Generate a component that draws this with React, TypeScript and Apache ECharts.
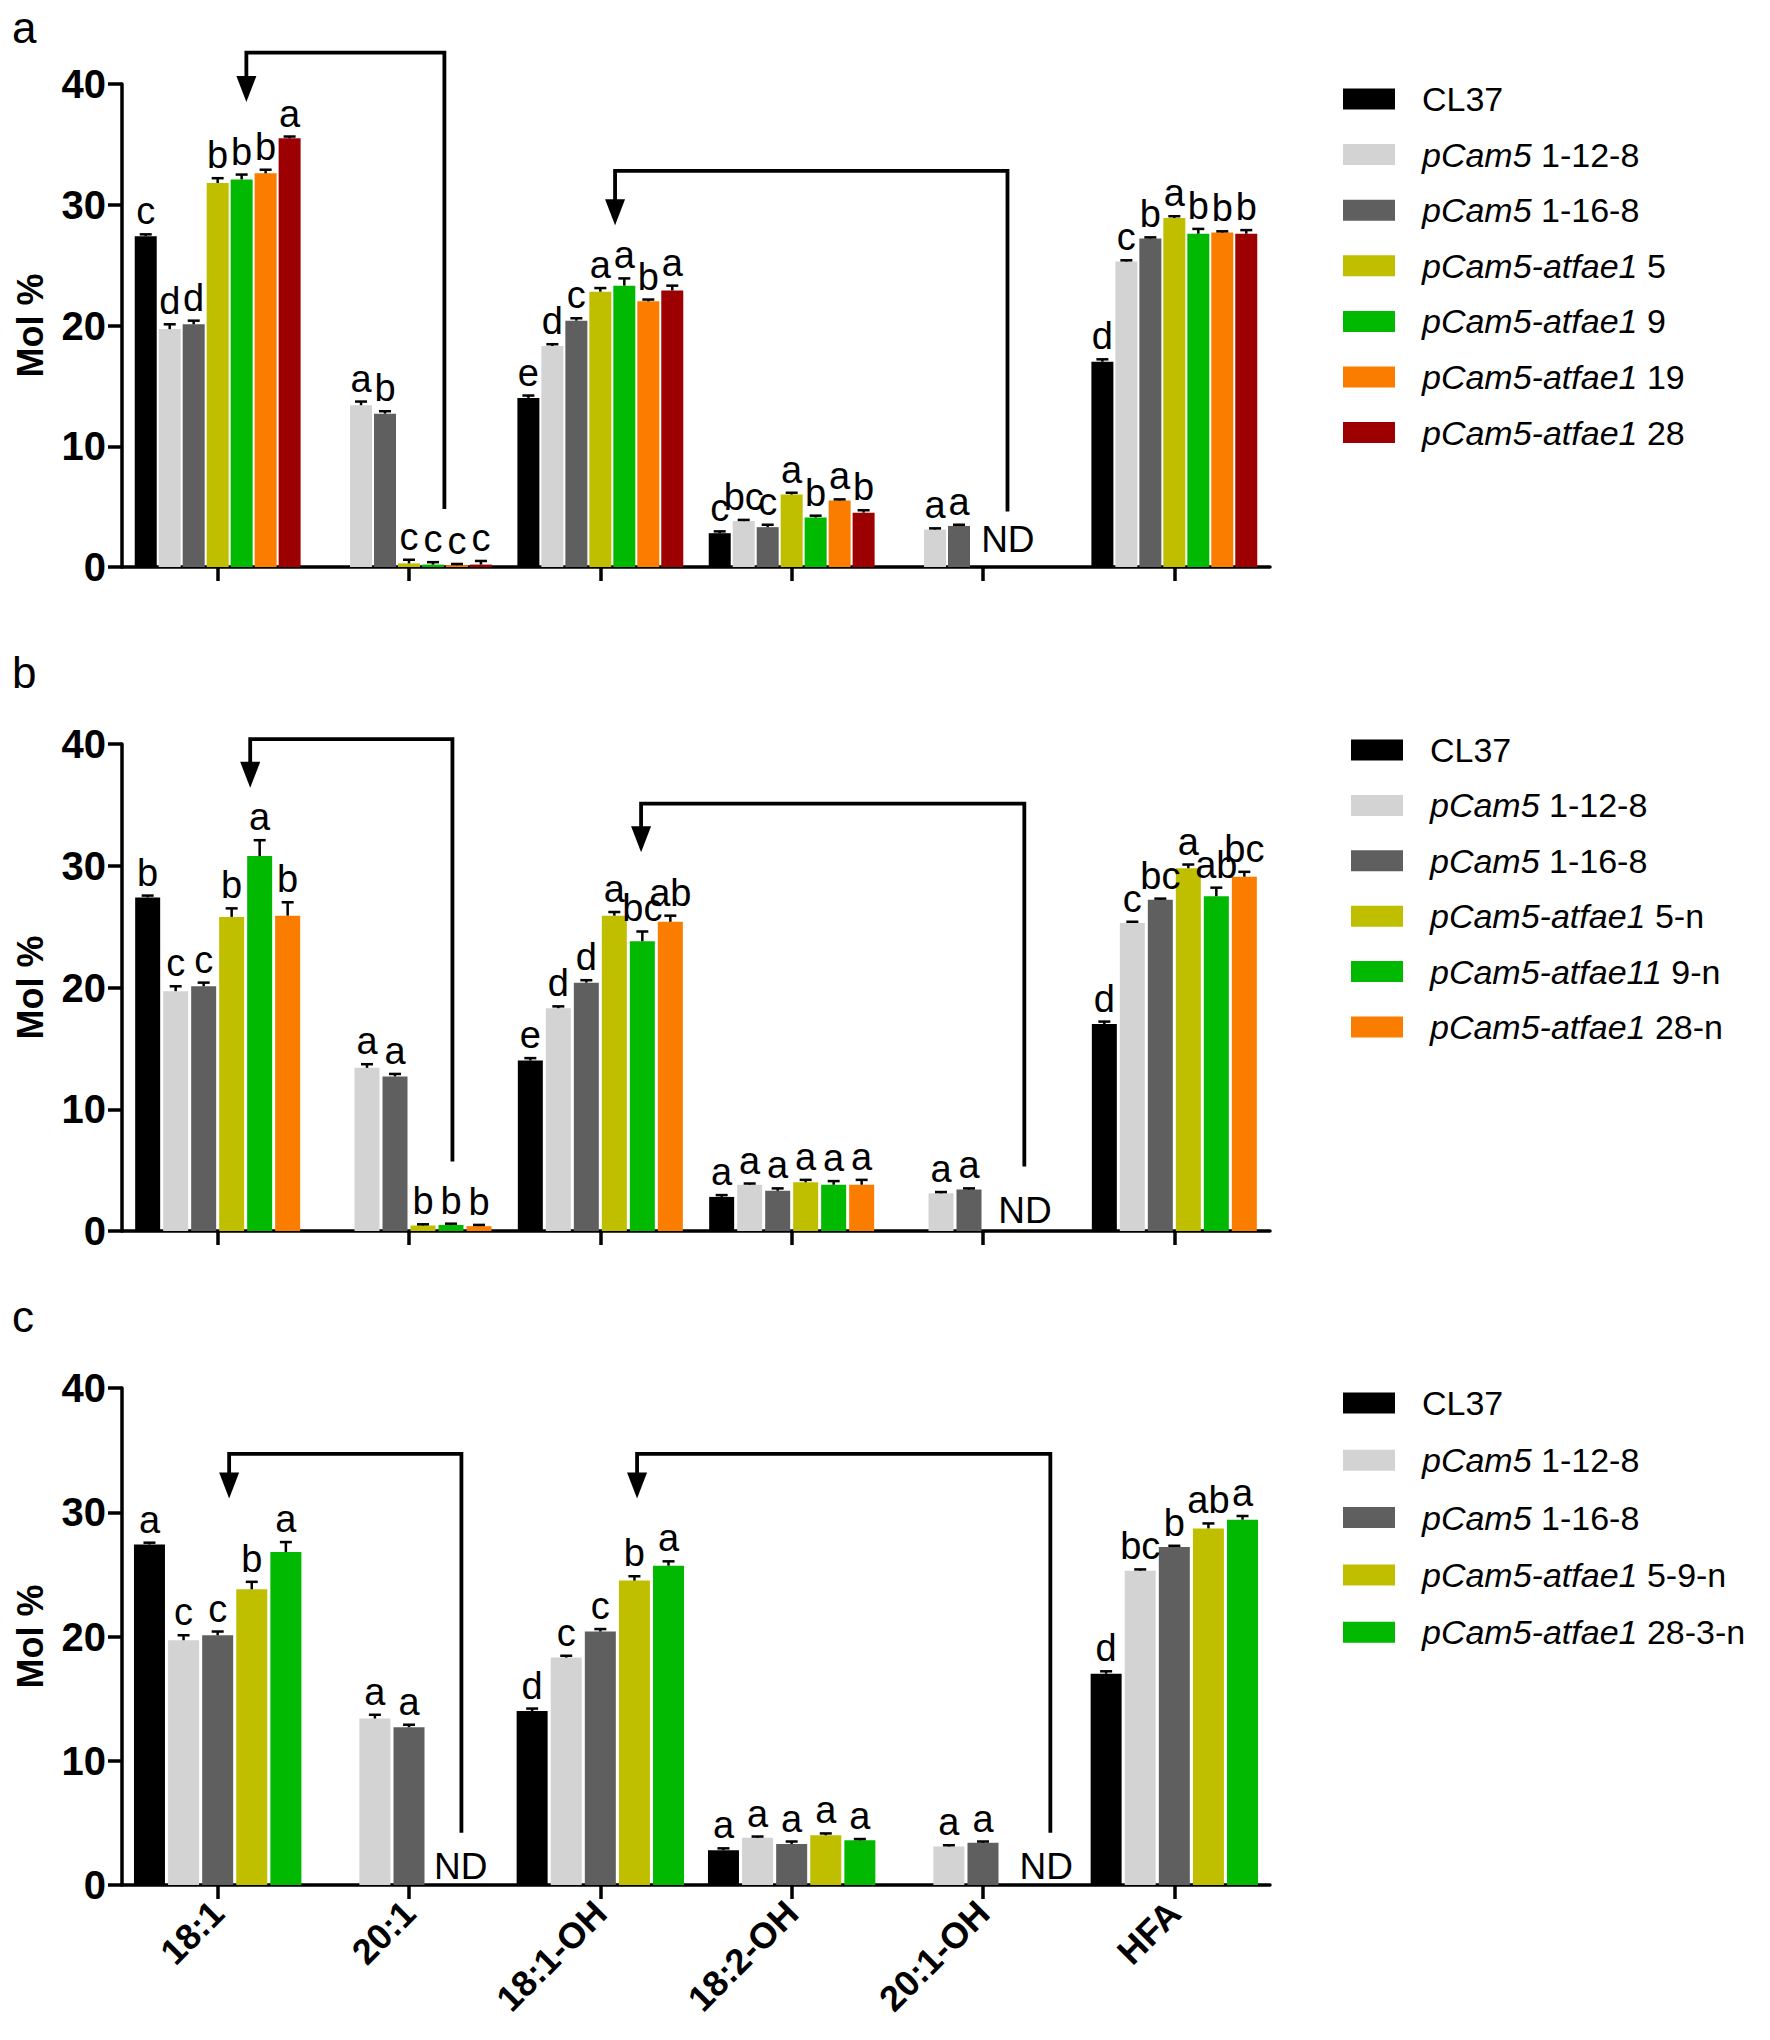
import React, { useEffect, useRef } from 'react';
import * as echarts from 'echarts';

const categories = ['18:1', '20:1', '18:1-OH', '18:2-OH', '20:1-OH', 'HFA'];
const yMin = 0;
const yMax = 40;
const yStep = 10;

// control lines (same in all panels)
const cl37 = [27.4, null, 14.0, 2.8, null, 17.0];
const cl37Err = [0.15, null, 0.2, 0.15, null, 0.2];
const pCam5_12_8 = [19.7, 13.4, 18.3, 3.8, 3.1, 25.3];
const pCam5_12_8Err = [0.4, 0.3, 0.15, 0.1, 0.1, 0.1];
const pCam5_16_8 = [20.1, 12.7, 20.4, 3.3, 3.4, 27.2];
const pCam5_16_8Err = [0.3, 0.2, 0.2, 0.2, 0.1, 0.1];

// panel a
const a5 = [31.8, 0.3, 22.8, 6.0, null, 28.9];
const a5Err = [0.4, 0.3, 0.3, 0.15, null, 0.15];
const a9 = [32.1, 0.2, 23.3, 4.1, null, 27.6];
const a9Err = [0.4, 0.2, 0.6, 0.15, null, 0.4];
const a19 = [32.6, 0.15, 22.0, 5.5, null, 27.7];
const a19Err = [0.3, 0.1, 0.15, 0.1, null, 0.1];
const a28 = [35.5, 0.2, 22.9, 4.5, null, 27.6];
const a28Err = [0.15, 0.3, 0.4, 0.2, null, 0.3];
const aLetCL37 = ['c', '', 'e', 'c', '', 'd'];
const aLet12 = ['d', 'a', 'd', 'bc', 'a', 'c'];
const aLet16 = ['d', 'b', 'c', 'c', 'a', 'b'];
const aLet5 = ['b', 'c', 'a', 'a', '', 'a'];
const aLet9 = ['b', 'c', 'a', 'b', '', 'b'];
const aLet19 = ['b', 'c', 'b', 'a', '', 'b'];
const aLet28 = ['a', 'c', 'a', 'b', '', 'b'];

// panel b
const b5 = [25.8, 0.45, 25.9, 4.0, null, 29.8];
const b5Err = [0.7, 0.1, 0.3, 0.2, null, 0.3];
const b9 = [30.8, 0.5, 23.8, 3.8, null, 27.5];
const b9Err = [1.3, 0.1, 0.8, 0.3, null, 0.7];
const b28 = [25.9, 0.4, 25.4, 3.8, null, 29.1];
const b28Err = [1.1, 0.1, 0.5, 0.4, null, 0.4];
const bLetCL37 = ['b', '', 'e', 'a', '', 'd'];
const bLet12 = ['c', 'a', 'd', 'a', 'a', 'c'];
const bLet16 = ['c', 'a', 'd', 'a', 'a', 'bc'];
const bLet5 = ['b', 'b', 'a', 'a', '', 'a'];
const bLet9 = ['a', 'b', 'bc', 'a', '', 'ab'];
const bLet28 = ['b', 'b', 'ab', 'a', '', 'bc'];

// panel c
const c59 = [23.8, null, 24.5, 4.0, null, 28.7];
const c59Err = [0.6, null, 0.35, 0.15, null, 0.4];
const c283 = [26.8, null, 25.7, 3.6, null, 29.4];
const c283Err = [0.8, null, 0.35, 0.1, null, 0.3];
const cLetCL37 = ['a', '', 'd', 'a', '', 'd'];
const cLet12 = ['c', 'a', 'c', 'a', 'a', 'bc'];
const cLet16 = ['c', 'a', 'c', 'a', 'a', 'b'];
const cLet59 = ['b', '', 'b', 'a', '', 'ab'];
const cLet283 = ['a', '', 'a', 'a', '', 'a'];

// annotations: arrows (category position, values) and ND marks
const arrowsA = [
  { from: 0.15, to: 1.185, top: 42.6, tip: 38.5, bottom: 4.8 },
  { from: 2.077, to: 4.128, top: 32.8, tip: 28.3, bottom: 4.6 },
];
const arrowsB = [
  { from: 0.17, to: 1.227, top: 40.4, tip: 36.4, bottom: 5.7 },
  { from: 2.213, to: 4.216, top: 35.1, tip: 31.1, bottom: 5.3 },
];
const arrowsC = [
  { from: 0.06, to: 1.274, top: 34.7, tip: 31.1, bottom: 4.2 },
  { from: 2.192, to: 4.352, top: 34.7, tip: 31.1, bottom: 4.2 },
];
const ndA = [{ cat: 4.13, v: 2.3 }];
const ndB = [{ cat: 4.22, v: 1.7 }];
const ndC = [{ cat: 1.27, v: 1.5 }, { cat: 4.33, v: 1.5 }];

const COL = {
  black: '#000000',
  light: '#d3d3d3',
  dark: '#5f5f5f',
  yellow: '#bfbf00',
  green: '#00b900',
  orange: '#fa7d00',
  red: '#9c0000',
};

const FONT = '"Liberation Sans", Arial, sans-serif';
const GRID_LEFT = 122;
const GRID_WIDTH = 1148;
const gridTops = [84, 744, 1388];
const gridHeights = [483, 487, 497];
const barWidths = [22, 25, 31];
const barGapPct = [9, 12, 10];
const legendLefts = [1338, 1346, 1338];
const legendTops = [77, 728, 1381];
const legendGaps = [21.6, 21.4, 23.3];
const panelLetters = ['a', 'b', 'c'];
const panelLetterTop = [5, 650, 1294];

type S = { name: string; color: string; values: (number | null)[]; errs: (number | null)[]; letters: string[] };

const panels: { series: S[]; arrows: typeof arrowsA; nd: typeof ndA }[] = [
  {
    series: [
      { name: 'CL37', color: COL.black, values: cl37, errs: cl37Err, letters: aLetCL37 },
      { name: 'pCam5 1-12-8', color: COL.light, values: pCam5_12_8, errs: pCam5_12_8Err, letters: aLet12 },
      { name: 'pCam5 1-16-8', color: COL.dark, values: pCam5_16_8, errs: pCam5_16_8Err, letters: aLet16 },
      { name: 'pCam5-atfae1 5', color: COL.yellow, values: a5, errs: a5Err, letters: aLet5 },
      { name: 'pCam5-atfae1 9', color: COL.green, values: a9, errs: a9Err, letters: aLet9 },
      { name: 'pCam5-atfae1 19', color: COL.orange, values: a19, errs: a19Err, letters: aLet19 },
      { name: 'pCam5-atfae1 28', color: COL.red, values: a28, errs: a28Err, letters: aLet28 },
    ],
    arrows: arrowsA,
    nd: ndA,
  },
  {
    series: [
      { name: 'CL37', color: COL.black, values: cl37, errs: cl37Err, letters: bLetCL37 },
      { name: 'pCam5 1-12-8', color: COL.light, values: pCam5_12_8, errs: pCam5_12_8Err, letters: bLet12 },
      { name: 'pCam5 1-16-8', color: COL.dark, values: pCam5_16_8, errs: pCam5_16_8Err, letters: bLet16 },
      { name: 'pCam5-atfae1 5-n', color: COL.yellow, values: b5, errs: b5Err, letters: bLet5 },
      { name: 'pCam5-atfae11 9-n', color: COL.green, values: b9, errs: b9Err, letters: bLet9 },
      { name: 'pCam5-atfae1 28-n', color: COL.orange, values: b28, errs: b28Err, letters: bLet28 },
    ],
    arrows: arrowsB,
    nd: ndB,
  },
  {
    series: [
      { name: 'CL37', color: COL.black, values: cl37, errs: cl37Err, letters: cLetCL37 },
      { name: 'pCam5 1-12-8', color: COL.light, values: pCam5_12_8, errs: pCam5_12_8Err, letters: cLet12 },
      { name: 'pCam5 1-16-8', color: COL.dark, values: pCam5_16_8, errs: pCam5_16_8Err, letters: cLet16 },
      { name: 'pCam5-atfae1 5-9-n', color: COL.yellow, values: c59, errs: c59Err, letters: cLet59 },
      { name: 'pCam5-atfae1 28-3-n', color: COL.green, values: c283, errs: c283Err, letters: cLet283 },
    ],
    arrows: arrowsC,
    nd: ndC,
  },
];

const px = (p: number, c: number) => GRID_LEFT + (GRID_WIDTH / categories.length) * (c + 0.5);
const py = (p: number, v: number) => gridTops[p] + gridHeights[p] * (1 - (v - yMin) / (yMax - yMin));

function legendFormatter(name: string) {
  if (name.startsWith('pCam5')) {
    const sp = name.indexOf(' ');
    return `{fi|${name.slice(0, sp)}}{n|${name.slice(sp)}}`;
  }
  return `{fn|${name}}`;
}

function buildOption() {
  const grid: any[] = [];
  const xAxis: any[] = [];
  const yAxis: any[] = [];
  const series: any[] = [];
  const legend: any[] = [];
  const graphic: any[] = [];

  panels.forEach((panel, p) => {
    grid.push({ left: GRID_LEFT, width: GRID_WIDTH, top: gridTops[p], height: gridHeights[p] });
    xAxis.push({
      type: 'category',
      gridIndex: p,
      data: categories,
      axisLine: { lineStyle: { color: '#000', width: 3.5 } },
      axisTick: { show: true, alignWithLabel: true, length: 14, lineStyle: { color: '#000', width: 3.5 } },
      axisLabel: {
        show: p === 2,
        rotate: 45,
        margin: 22,
        color: '#000',
        fontSize: 36,
        fontWeight: 'bold',
        fontFamily: FONT,
      },
      splitLine: { show: false },
    });
    yAxis.push({
      type: 'value',
      gridIndex: p,
      min: yMin,
      max: yMax,
      interval: yStep,
      axisLine: { show: true, lineStyle: { color: '#000', width: 3.5 } },
      axisTick: { show: true, length: 14, lineStyle: { color: '#000', width: 3.5 } },
      axisLabel: { color: '#000', fontSize: 40, fontWeight: 'bold', fontFamily: FONT, margin: 16 },
      splitLine: { show: false },
    });

    const n = panel.series.length;
    const bw = barWidths[p];
    const gapPx = (bw * barGapPct[p]) / 100;
    const total = n * bw + (n - 1) * gapPx;

    panel.series.forEach((s, i) => {
      series.push({
        type: 'bar',
        name: s.name,
        xAxisIndex: p,
        yAxisIndex: p,
        barWidth: bw,
        barGap: barGapPct[p] + '%',
        data: s.values,
        itemStyle: { color: s.color },
        z: 2,
      });
      const offset = -total / 2 + i * (bw + gapPx) + bw / 2;
      series.push({
        type: 'custom',
        name: s.name + ' err',
        xAxisIndex: p,
        yAxisIndex: p,
        z: 5,
        data: categories.map((c, k) => [k, s.values[k] == null ? 0 : s.values[k]]),
        renderItem: (params: any, api: any) => {
          const k = params.dataIndex;
          const v = s.values[k];
          if (v == null) return null;
          const e = s.errs[k] || 0;
          const base = api.coord([k, v]);
          const tp = api.coord([k, v + e]);
          const x = base[0] + offset;
          const children: any[] = [];
          if (e > 0) {
            children.push({
              type: 'line',
              shape: { x1: x, y1: base[1], x2: x, y2: tp[1] },
              style: { stroke: '#000', lineWidth: 2.5 },
            });
            children.push({
              type: 'line',
              shape: { x1: x - 6, y1: tp[1], x2: x + 6, y2: tp[1] },
              style: { stroke: '#000', lineWidth: 2.5 },
            });
          }
          if (s.letters[k]) {
            children.push({
              type: 'text',
              x,
              y: tp[1] - 4,
              style: {
                text: s.letters[k],
                fill: '#000',
                fontSize: 38,
                fontFamily: FONT,
                align: 'center',
                verticalAlign: 'bottom',
              },
            });
          }
          return { type: 'group', children };
        },
      });
    });

    legend.push({
      orient: 'vertical',
      left: legendLefts[p],
      top: legendTops[p],
      itemWidth: 52,
      itemHeight: 21,
      itemGap: legendGaps[p],
      icon: 'rect',
      selectedMode: false,
      data: panel.series.map((s) => s.name),
      formatter: legendFormatter,
      textStyle: {
        color: '#000',
        fontSize: 34,
        lineHeight: 34,
        fontFamily: FONT,
        rich: {
          fi: { fontStyle: 'italic', fontSize: 34, lineHeight: 34, fontFamily: FONT, color: '#000', padding: [0, 0, 0, 22] },
          fn: { fontSize: 34, lineHeight: 34, fontFamily: FONT, color: '#000', padding: [0, 0, 0, 22] },
          n: { fontSize: 34, lineHeight: 34, fontFamily: FONT, color: '#000' },
        },
      },
    });

    // panel letter
    graphic.push({
      type: 'text',
      left: 12,
      top: panelLetterTop[p],
      style: { text: panelLetters[p], fill: '#000', fontSize: 44, fontFamily: FONT },
    });
    // y axis name
    graphic.push({
      type: 'text',
      x: 30,
      y: gridTops[p] + gridHeights[p] / 2,
      rotation: Math.PI / 2,
      style: {
        text: 'Mol %',
        fill: '#000',
        fontSize: 36,
        fontWeight: 'bold',
        fontFamily: FONT,
        align: 'center',
        verticalAlign: 'middle',
      },
    });
    // arrows
    panel.arrows.forEach((a) => {
      const xl = px(p, a.from);
      const xr = px(p, a.to);
      const yt = py(p, a.top);
      const ytip = py(p, a.tip);
      const yb = py(p, a.bottom);
      const headH = 26;
      graphic.push({
        type: 'polyline',
        shape: { points: [[xl, ytip - headH + 2], [xl, yt], [xr, yt], [xr, yb]] },
        style: { stroke: '#000', lineWidth: 3.8, fill: null },
      });
      graphic.push({
        type: 'polygon',
        shape: { points: [[xl - 10, ytip - headH], [xl + 10, ytip - headH], [xl, ytip]] },
        style: { fill: '#000' },
      });
    });
    // ND marks
    panel.nd.forEach((d) => {
      graphic.push({
        type: 'text',
        x: px(p, d.cat),
        y: py(p, d.v),
        style: {
          text: 'ND',
          fill: '#000',
          fontSize: 37,
          fontFamily: FONT,
          align: 'center',
          verticalAlign: 'middle',
        },
      });
    });
  });

  return {
    animation: false,
    backgroundColor: '#ffffff',
    grid,
    xAxis,
    yAxis,
    series,
    legend,
    graphic,
  };
}

export default function App() {
  const ref = useRef<HTMLDivElement>(null);
  useEffect(() => {
    if (!ref.current) return;
    const chart = echarts.init(ref.current, null, { renderer: 'svg' });
    chart.setOption(buildOption() as any);
    return () => chart.dispose();
  }, []);
  return (
    <div
      ref={ref}
      style={{ position: 'absolute', left: 0, top: 0, width: 1770, height: 2040, background: '#fff' }}
    />
  );
}
